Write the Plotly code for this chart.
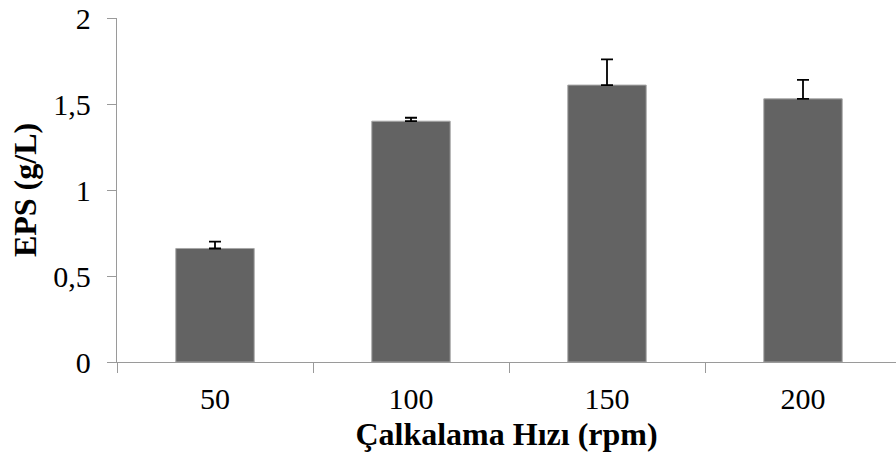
import plotly.graph_objects as go

# Shaking speed (rpm) vs. EPS yield (g/L)
categories = ["50", "100", "150", "200"]
eps_values = [0.66, 1.40, 1.61, 1.53]
eps_errors = [0.04, 0.02, 0.15, 0.11]
y_ticks = [0, 0.5, 1, 1.5, 2]

serif = "Liberation Serif, Times New Roman, serif"
axis_gray = "#9a9a9a"

fig = go.Figure(
    go.Bar(
        x=categories,
        y=eps_values,
        marker=dict(color="#636363", line=dict(color="#a6a6a6", width=1)),
        error_y=dict(
            type="data",
            array=eps_errors,
            arrayminus=[0] * len(eps_errors),
            symmetric=False,
            color="black",
            thickness=1.8,
            width=6,
        ),
    )
)

fig.update_layout(
    width=896,
    height=465,
    margin=dict(l=117, r=0, t=18, b=103),
    paper_bgcolor="white",
    plot_bgcolor="white",
    bargap=0.6,
    separators=",.",
    showlegend=False,
    font=dict(family=serif, color="black"),
)

fig.update_xaxes(
    type="category",
    range=[-0.5, 3.4745],
    showline=True,
    linecolor=axis_gray,
    linewidth=1.3,
    ticks="outside",
    tickson="boundaries",
    ticklen=10,
    tickcolor=axis_gray,
    tickwidth=1.3,
    showgrid=False,
    ticklabelstandoff=10,
    tickfont=dict(size=30, family=serif),
    title=dict(
        text="<b>Çalkalama Hızı (rpm)</b>",
        font=dict(size=32, family=serif),
        standoff=8,
    ),
)

fig.update_yaxes(
    range=[0, 2],
    tickvals=y_ticks,
    showline=True,
    linecolor=axis_gray,
    linewidth=1.3,
    ticks="outside",
    ticklen=9,
    tickcolor=axis_gray,
    tickwidth=1.3,
    showgrid=False,
    zeroline=False,
    ticklabelstandoff=10,
    tickfont=dict(size=30, family=serif),
    title=dict(
        text="<b>EPS (g/L)</b>",
        font=dict(size=32, family=serif),
        standoff=7,
    ),
)

fig.write_html("out.html")
